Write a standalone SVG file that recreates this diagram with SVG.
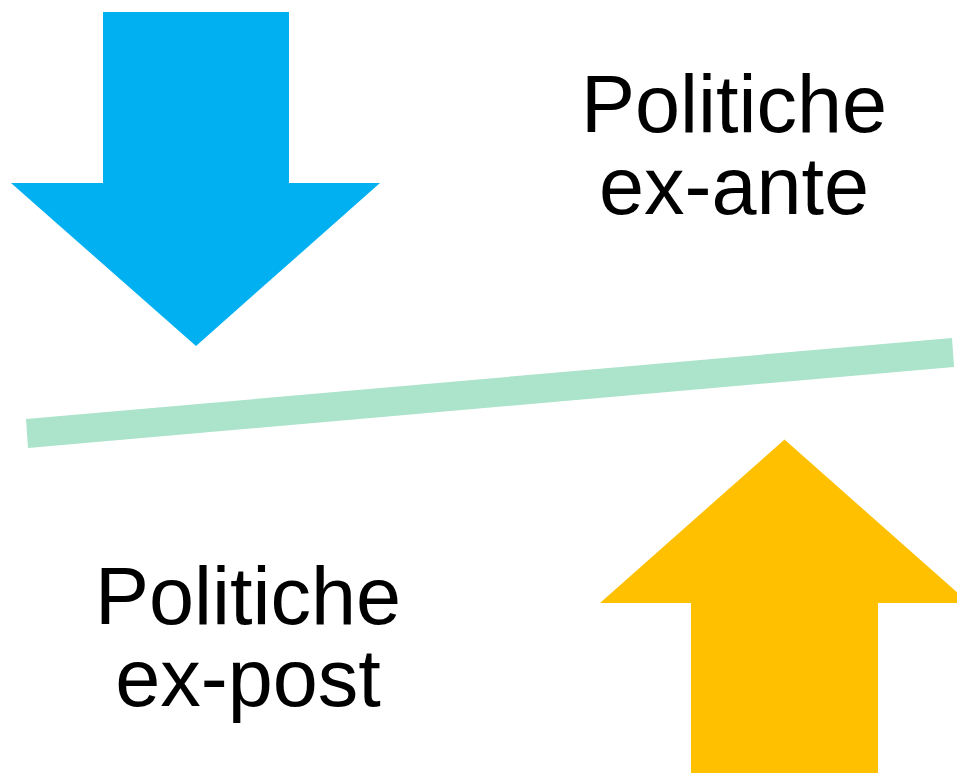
<svg xmlns="http://www.w3.org/2000/svg" width="957" height="773" viewBox="0 0 957 773">
<style>
.lbl{font-family:"Liberation Sans",Arial,sans-serif;font-size:81px;fill:#000;text-anchor:middle}
</style>
<rect width="957" height="773" fill="#fff"/>
<g id="arrow-down">
<polygon points="103,12 289,12 289,183 380,183 196,346 11,183 103,183" fill="#00B0F0"/>
</g>
<g id="divider">
<polygon points="26,419 952,338 954,367 28,448" fill="#ABE3CB"/>
</g>
<g id="arrow-up">
<polygon points="784.5,439.5 969,603 878,603 878,773 691,773 691,603 600,603" fill="#FFC000"/>
</g>
<g id="label-exante">
<text class="lbl" x="734" y="132">Politiche</text>
<text class="lbl" x="734" y="214">ex-ante</text>
</g>
<g id="label-expost">
<text class="lbl" x="248" y="624">Politiche</text>
<text class="lbl" x="248" y="706">ex-post</text>
</g>
<g id="connectors"></g>
</svg>
